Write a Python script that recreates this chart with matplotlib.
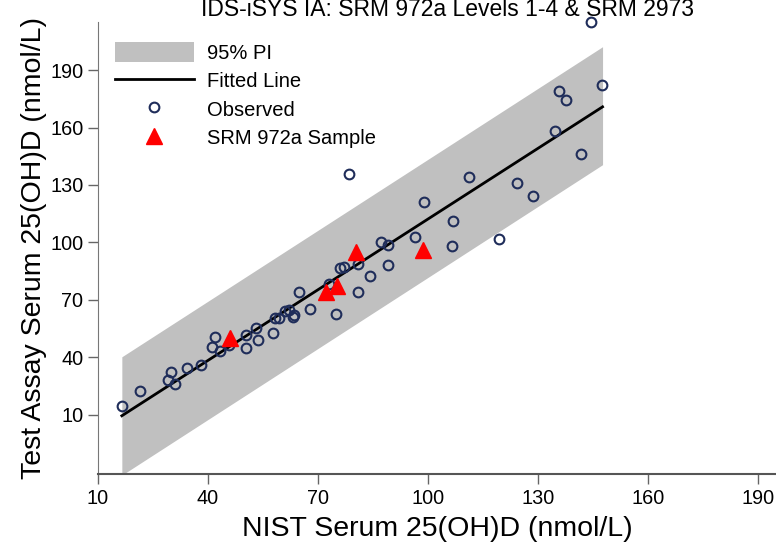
import matplotlib
matplotlib.use("Agg")
import matplotlib.pyplot as plt
from matplotlib.patches import Patch
from matplotlib.lines import Line2D

plt.rcParams['font.family'] = ['Liberation Sans', 'DejaVu Sans']

title = "IDS-iSYS IA: SRM 972a Levels 1-4 & SRM 2973"
xlabel = "NIST Serum 25(OH)D (nmol/L)"
ylabel = "Test Assay Serum 25(OH)D (nmol/L)"
ticks = [10, 40, 70, 100, 130, 160, 190]

obs_x = [16.6, 21.5, 29.0, 29.9, 31.0, 34.2, 38.1, 41.9, 41.2, 43.4,
         45.7, 50.3, 50.3, 53.1, 53.7, 57.6, 58.3, 59.4, 61.0, 62.1,
         63.2, 63.5, 64.8, 67.8, 74.8, 73.1, 75.9, 77.1, 80.9, 84.2,
         80.8, 87.3, 89.0, 89.2, 96.4, 99.0, 106.9, 106.5, 111.2, 119.4,
         124.4, 128.7, 134.7, 135.6, 137.7, 141.7, 147.5, 144.4, 78.5]
obs_y = [14.7, 22.5, 28.1, 32.1, 26.2, 34.6, 36.0, 50.5, 45.6, 43.1,
         46.4, 51.9, 44.9, 55.5, 49.1, 52.9, 60.7, 60.4, 64.4, 64.9,
         60.9, 62.3, 74.0, 65.5, 62.7, 78.5, 86.5, 87.2, 88.7, 82.6,
         74.2, 100.0, 98.8, 88.1, 102.9, 120.9, 111.0, 98.1, 134.0, 102.0,
         131.2, 124.1, 158.1, 179.2, 174.3, 146.0, 182.0, 215.1, 135.9]

srm_x = [46.0, 72.3, 75.1, 80.3, 98.7]
srm_y = [50.3, 74.1, 77.5, 95.1, 96.0]

fit_x = [16.5, 147.6]
fit_y = [9.5, 170.8]
pi_upper = [40.3, 202.2]
pi_lower = [-21.5, 140.6]

W, H = 776, 544
fig = plt.figure(figsize=(W / 100, H / 100), dpi=100)
ax = fig.add_axes([98 / W, (H - 474) / H, (W - 98) / W, (474 - 22) / H])
ax.set_xlim(10, 194.9)
ax.set_ylim(-20.9, 215.1)

ax.fill_between(fit_x, pi_lower, pi_upper, color='#c0c0c0', lw=0, zorder=1)
ax.plot(fit_x, fit_y, color='black', lw=2, zorder=2)
ax.plot(obs_x, obs_y, ls='none', marker='o', ms=7, mew=1.5, mfc='none',
        mec='#1f2d5a', zorder=3, clip_on=False)
ax.plot(srm_x, srm_y, ls='none', marker='^', ms=11, color='#ff0000',
        mec='#ff0000', zorder=4)

ax.set_xticks(ticks)
ax.set_yticks(ticks)
ax.tick_params(axis='both', labelsize=14.3, color='#666666', length=7, width=1)
for s in ['top', 'right']:
    ax.spines[s].set_visible(False)
ax.spines['left'].set_color('#777777')
ax.spines['bottom'].set_color('#555555')
ax.spines['bottom'].set_linewidth(1.5)

ax.set_xlabel(xlabel, fontsize=20.5, labelpad=6)
ax.set_ylabel(ylabel, fontsize=20.5, labelpad=2)
fig.text(448 / W, 1 - 9 / H, title, fontsize=16.5, ha='center', va='center')

handles = [
    Patch(facecolor='#c0c0c0', edgecolor='none', label='95% PI'),
    Line2D([], [], color='black', lw=2, label='Fitted Line'),
    Line2D([], [], ls='none', marker='o', ms=7, mew=1.5, mfc='none',
           mec='#1f2d5a', label='Observed'),
    Line2D([], [], ls='none', marker='^', ms=11, color='#ff0000',
           label='SRM 972a Sample'),
]
ax.legend(handles=handles, loc='upper left', frameon=False, fontsize=14.5,
          bbox_to_anchor=(115 / W, 1 - 42 / H), bbox_transform=fig.transFigure,
          borderaxespad=0, borderpad=0, handlelength=3.9, handleheight=1.14,
          handletextpad=0.65, labelspacing=0.38)

fig.savefig('out.png', dpi=100)
